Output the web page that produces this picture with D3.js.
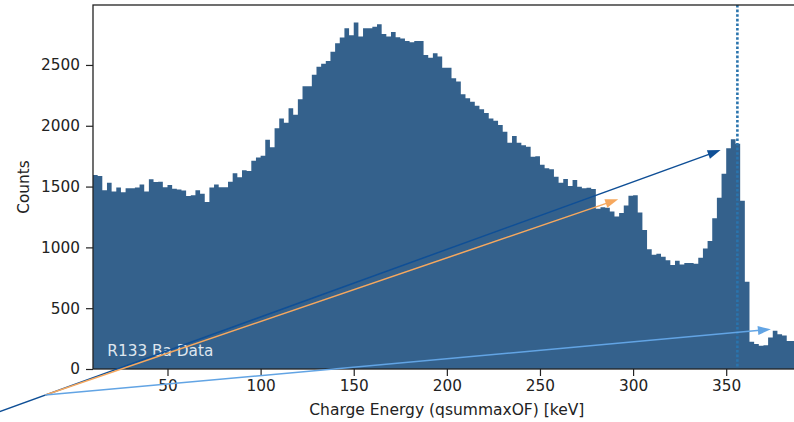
<!DOCTYPE html>
<html>
<head>
<meta charset="utf-8">
<script src="https://cdn.jsdelivr.net/npm/d3@7/dist/d3.min.js"></script>
<style>
  html, body { margin: 0; padding: 0; background: #ffffff; }
  svg { display: block; }
  text { font-family: "DejaVu Sans", sans-serif; fill: #222; }
</style>
</head>
<body>
<svg id="chart" width="794" height="422"></svg>
<script>
// Histogram of charge energy, 2.5 keV bins starting at 10 keV
const binStart = 10;
const binWidth = 2.5;
const counts = [
  1595, 1587, 1470, 1532, 1460, 1492, 1453, 1486, 1486, 1492,
  1517, 1460, 1561, 1537, 1540, 1494, 1513, 1483, 1475, 1468,
  1423, 1428, 1470, 1440, 1374, 1492, 1517, 1494, 1494, 1540,
  1610, 1577, 1635, 1628, 1713, 1740, 1754, 1886, 1823, 1979,
  2060, 2025, 2145, 2090, 2218, 2324, 2324, 2420, 2486, 2510,
  2533, 2609, 2678, 2725, 2801, 2745, 2850, 2735, 2801, 2801,
  2815, 2834, 2755, 2733, 2772, 2727, 2718, 2697, 2686, 2697,
  2697, 2582, 2560, 2596, 2569, 2477, 2477, 2390, 2363, 2259,
  2226, 2198, 2165, 2135, 2105, 2060, 2041, 2006, 1951, 1861,
  1916, 1861, 1839, 1828, 1745, 1750, 1680, 1650, 1642, 1580,
  1532, 1562, 1505, 1554, 1499, 1486, 1491, 1480, 1317, 1330,
  1325, 1295, 1253, 1283, 1345, 1425, 1428, 1286, 1143, 985,
  940, 948, 924, 895, 855, 890, 860, 872, 872, 865,
  915, 990, 1053, 1239, 1409, 1605, 1815, 1889, 1853, 1383,
  718, 225, 205, 192, 195, 260, 315, 285, 275, 230,
  230
];

const xTicks = [50, 100, 150, 200, 250, 300, 350];
const yTicks = [0, 500, 1000, 1500, 2000, 2500];

// Ba-133 356 keV line
const lineEnergy = 356;

// Annotation arrows (data coordinates: keV, counts)
const arrowColors = ["#0f4f96", "#f6a85e", "#62a4e4"];
const arrowFrom = [[-50, -405], [-15.6, -214], [-15.6, -214]];
const arrowTo = [[347, 1800], [292, 1395], [374, 326]];

const dataLabel = "R133 Ba Data";
const xLabel = "Charge Energy (qsummaxOF) [keV]";
const yLabel = "Counts";

const svg = d3.select("#chart");
const margin = { left: 93, top: 5, right: 800.7, bottom: 369 };

const x = d3.scaleLinear().domain([10, 390]).range([margin.left, margin.right]);
const y = d3.scaleLinear().domain([0, 2993]).range([margin.bottom, margin.top]);

svg.append("defs").append("clipPath").attr("id", "plot-clip")
  .append("rect")
  .attr("x", margin.left).attr("y", margin.top)
  .attr("width", margin.right - margin.left)
  .attr("height", margin.bottom - margin.top);

// step-filled histogram
const steps = counts.map((c, i) => ({ e: binStart + i * binWidth, c }));
steps.push({ e: binStart + counts.length * binWidth, c: counts[counts.length - 1] });

const area = d3.area()
  .x(d => x(d.e))
  .y0(y(0))
  .y1(d => y(d.c))
  .curve(d3.curveStepAfter);

svg.append("path")
  .datum(steps)
  .attr("clip-path", "url(#plot-clip)")
  .attr("d", area)
  .attr("fill", "#34618c");

// label inside the plot
svg.append("text")
  .attr("x", x(17.7))
  .attr("y", y(107))
  .attr("font-size", 15.3)
  .style("fill", "#dfe6ee")
  .text(dataLabel);

// vertical dotted line at the photopeak energy
svg.append("line")
  .attr("x1", x(lineEnergy)).attr("x2", x(lineEnergy))
  .attr("y1", margin.top).attr("y2", margin.bottom)
  .attr("stroke", "#2a74ad")
  .attr("stroke-width", 2.6)
  .attr("stroke-dasharray", "2.6,2.0");

// axes
const xAxis = d3.axisBottom(x).tickValues(xTicks).tickSize(7).tickPadding(4.5).tickFormat(d3.format("d"));
const yAxis = d3.axisLeft(y).tickValues(yTicks).tickSize(7).tickPadding(6).tickFormat(d3.format("d"));

const gx = svg.append("g").attr("transform", `translate(0,${margin.bottom})`).call(xAxis);
const gy = svg.append("g").attr("transform", `translate(${margin.left},0)`).call(yAxis);

[gx, gy].forEach(g => {
  g.select(".domain").remove();
  g.selectAll(".tick line").attr("stroke", "#222").attr("stroke-width", 1.2);
  g.selectAll(".tick text").attr("font-size", 15.3).attr("font-family", "DejaVu Sans").style("fill", "#222");
});

// spines
svg.append("rect")
  .attr("x", margin.left).attr("y", margin.top)
  .attr("width", margin.right - margin.left)
  .attr("height", margin.bottom - margin.top)
  .attr("fill", "none")
  .attr("stroke", "#222")
  .attr("stroke-width", 1.3);

// axis titles
svg.append("text")
  .attr("x", (margin.left + margin.right) / 2)
  .attr("y", 415)
  .attr("text-anchor", "middle")
  .attr("font-size", 15.5)
  .text(xLabel);

svg.append("text")
  .attr("transform", `translate(29,${(margin.top + margin.bottom) / 2}) rotate(-90)`)
  .attr("text-anchor", "middle")
  .attr("font-size", 15.3)
  .text(yLabel);

// annotation arrows
const headLen = 13, headHalf = 4.5;
arrowColors.forEach((col, i) => {
  const [x0, y0] = [x(arrowFrom[i][0]), y(arrowFrom[i][1])];
  const [x1, y1] = [x(arrowTo[i][0]), y(arrowTo[i][1])];
  const dx = x1 - x0, dy = y1 - y0, len = Math.hypot(dx, dy);
  const ux = dx / len, uy = dy / len;
  const bx = x1 - ux * headLen, by = y1 - uy * headLen;
  svg.append("line")
    .attr("x1", x0).attr("y1", y0).attr("x2", bx + ux * 2).attr("y2", by + uy * 2)
    .attr("stroke", col).attr("stroke-width", 1.5);
  svg.append("path")
    .attr("d", `M${x1},${y1}L${bx - uy * headHalf},${by + ux * headHalf}L${bx + uy * headHalf},${by - ux * headHalf}Z`)
    .attr("fill", col);
});
</script>
</body>
</html>
